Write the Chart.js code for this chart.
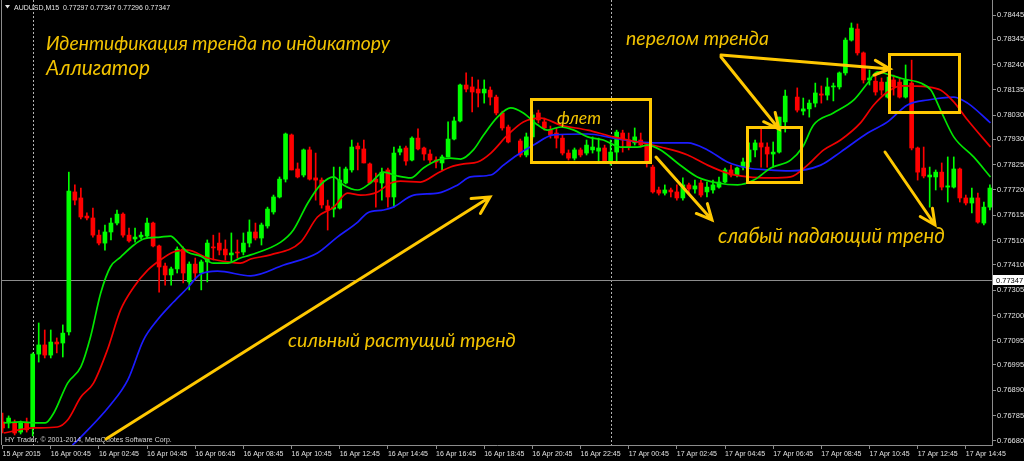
<!DOCTYPE html>
<html><head><meta charset="utf-8">
<script src="https://cdn.jsdelivr.net/npm/chart.js@4.4.1/dist/chart.umd.min.js"></script>
<style>html,body{margin:0;padding:0;background:#000;overflow:hidden}#wrap{width:1024px;height:461px;position:relative}</style>
</head><body><div id="wrap"><canvas id="c"></canvas></div>
<script>
// ---- DATA (AUDUSD M15, bar index 0 = 15 Apr 22:45) ----
const opens = [0.76759,0.76755,0.76755,0.76717,0.76755,0.76738,0.77040,0.77078,0.77036,0.77090,0.77086,0.77132,0.77712,0.77687,0.77612,0.77604,0.77533,0.77500,0.77546,0.77583,0.77620,0.77533,0.77517,0.77525,0.77529,0.77583,0.77488,0.77405,0.77368,0.77393,0.77475,0.77339,0.77413,0.77376,0.77422,0.77484,0.77500,0.77475,0.77451,0.77463,0.77463,0.77500,0.77546,0.77521,0.77571,0.77629,0.77691,0.77765,0.77948,0.77807,0.77782,0.77886,0.77770,0.77761,0.77654,0.77641,0.77645,0.77749,0.77803,0.77902,0.77890,0.77828,0.77765,0.77749,0.77803,0.77691,0.77877,0.77894,0.77844,0.77935,0.77894,0.77869,0.77844,0.77832,0.77857,0.77931,0.78006,0.78155,0.78147,0.78138,0.78122,0.78134,0.78105,0.78039,0.77981,null,0.77923,0.77865,0.77940,0.78039,0.78002,0.77968,0.77956,0.77935,0.77873,0.77852,0.77886,0.77873,0.77886,0.77881,0.77894,0.77836,0.77877,0.77956,0.77927,0.77915,0.77927,0.77906,0.77815,0.77720,0.77707,0.77720,0.77712,0.77687,0.77741,0.77724,0.77749,0.77712,0.77720,0.77732,0.77753,0.77803,0.77782,0.77815,0.77836,0.77886,0.77915,0.77898,0.77869,0.77877,0.78002,null,0.78105,0.78047,0.78056,0.78080,0.78118,0.78113,0.78147,0.78147,0.78205,0.78341,0.78387,0.78288,0.78176,0.78171,0.78167,0.78105,0.78176,0.78167,0.78105,0.78163,0.77894,0.77811,0.77774,0.77774,0.77794,0.77732,0.77732,0.77807,0.77687,0.77666,0.77687,0.77583,0.77649];
const highs = [0.76796,0.76784,0.76767,0.76763,0.76775,0.77045,0.77169,0.77140,0.77140,0.77107,0.77161,0.77794,0.77741,0.77728,0.77625,0.77645,0.77554,0.77575,0.77604,0.77637,0.77625,0.77562,0.77562,0.77546,0.77604,0.77587,0.77492,0.77417,0.77401,0.77484,0.77484,0.77422,0.77438,0.77430,0.77513,0.77533,0.77542,0.77513,0.77542,0.77513,0.77542,0.77596,0.77583,0.77583,0.77649,0.77699,0.77774,0.77956,0.77952,0.77832,0.77890,0.77898,0.77873,0.77770,0.77678,0.77815,0.77815,0.77815,0.77927,0.77915,0.77927,0.77832,0.77790,0.77811,0.77811,0.77898,0.77902,0.77902,0.77940,0.77973,0.77898,0.77886,0.77857,0.77865,0.78002,0.78022,0.78159,0.78205,0.78188,0.78176,0.78176,0.78147,0.78113,0.78047,0.77989,null,0.77931,0.77956,0.78043,0.78051,0.78018,0.77985,0.77977,0.77948,0.77886,0.77894,0.77894,0.77927,0.77940,0.77935,0.77906,0.77927,0.77968,0.77968,0.77956,0.77977,0.77956,0.77915,0.77823,0.77732,0.77741,0.77728,0.77741,0.77770,0.77749,0.77761,0.77761,0.77753,0.77761,0.77774,0.77811,0.77823,0.77815,0.77852,0.77915,0.77927,0.77977,0.77915,0.77919,0.78022,0.78134,null,0.78143,0.78101,0.78093,0.78163,0.78151,0.78184,0.78163,0.78209,0.78350,0.78412,0.78408,0.78292,0.78217,0.78196,0.78184,0.78188,0.78196,0.78184,0.78238,0.78258,0.77898,0.77898,0.77815,0.77803,0.77832,0.77857,0.77857,0.77811,0.77699,0.77728,0.77707,0.77670,0.77741];
const lows = [0.76713,0.76734,0.76705,0.76709,0.76717,0.76701,0.77007,0.77024,0.77024,0.77045,0.77028,0.77119,0.77658,0.77600,0.77596,0.77525,0.77492,0.77471,0.77513,0.77575,0.77525,0.77504,0.77504,0.77517,0.77521,0.77484,0.77297,0.77326,0.77326,0.77376,0.77335,0.77306,0.77347,0.77306,0.77339,0.77430,0.77451,0.77430,0.77422,0.77438,0.77451,0.77484,0.77513,0.77492,0.77562,0.77620,0.77687,0.77753,0.77803,0.77770,0.77774,0.77761,0.77678,0.77645,0.77554,0.77608,0.77641,0.77745,0.77794,0.77803,0.77832,0.77745,0.77649,0.77678,0.77649,0.77649,0.77865,0.77823,0.77840,0.77886,0.77844,0.77832,0.77811,0.77803,0.77857,0.77927,0.78002,0.78126,0.78043,0.78064,0.78080,0.78072,0.78031,0.77968,0.77915,null,0.77857,0.77857,0.77931,0.77998,0.77968,0.77935,0.77894,0.77865,0.77844,0.77844,0.77857,0.77865,0.77873,0.77836,0.77836,0.77823,0.77836,0.77877,0.77886,0.77906,0.77898,0.77815,0.77707,0.77699,0.77699,0.77691,0.77678,0.77678,0.77707,0.77707,0.77691,0.77691,0.77707,0.77728,0.77749,0.77774,0.77774,0.77803,0.77815,0.77857,0.77815,0.77815,0.77815,0.77873,0.77960,null,0.78043,0.78031,0.78022,0.78064,0.78080,0.78093,0.78089,0.78138,0.78196,0.78337,0.78279,0.78163,0.78155,0.78113,0.78113,0.78101,0.78113,0.78101,0.78101,0.77886,0.77761,0.77770,0.77649,0.77720,0.77720,0.77670,0.77728,0.77670,0.77658,0.77625,0.77583,0.77575,0.77637];
const closes = [0.76734,0.76775,0.76713,0.76755,0.76726,0.77040,0.77078,0.77036,0.77090,0.77082,0.77127,0.77716,0.77678,0.77608,0.77604,0.77533,0.77500,0.77546,0.77583,0.77620,0.77533,0.77509,0.77525,0.77533,0.77583,0.77488,0.77401,0.77368,0.77393,0.77475,0.77376,0.77413,0.77376,0.77422,0.77500,0.77480,0.77471,0.77451,0.77459,0.77459,0.77500,0.77546,0.77521,0.77575,0.77641,0.77691,0.77765,0.77952,0.77803,0.77774,0.77886,0.77765,0.77761,0.77658,0.77637,0.77649,0.77761,0.77807,0.77898,0.77890,0.77832,0.77749,0.77753,0.77794,0.77691,0.77873,0.77890,0.77840,0.77935,0.77890,0.77869,0.77844,0.77836,0.77857,0.77931,0.78006,0.78155,0.78138,0.78126,0.78122,0.78138,0.78105,0.78039,0.77977,0.77919,null,0.77865,0.77940,0.78031,0.78010,0.77977,0.77948,0.77935,0.77873,0.77852,0.77886,0.77865,0.77906,0.77898,0.77894,0.77840,0.77877,0.77960,0.77927,0.77898,0.77940,0.77906,0.77832,0.77712,0.77707,0.77720,0.77712,0.77687,0.77741,0.77724,0.77737,0.77699,0.77732,0.77741,0.77753,0.77803,0.77782,0.77811,0.77836,0.77886,0.77915,0.77898,0.77869,0.77877,0.78022,0.78109,null,0.78051,0.78056,0.78080,0.78122,0.78113,0.78147,0.78151,0.78205,0.78341,0.78391,0.78288,0.78176,0.78184,0.78126,0.78134,0.78167,0.78147,0.78105,0.78176,0.77894,0.77794,0.77778,0.77782,0.77794,0.77732,0.77737,0.77807,0.77687,0.77666,0.77687,0.77587,0.77649,0.77728];

// Alligator lines (bar index, price)
const jawX = [11.6,12.5,17.9,20.8,23.4,25.7,28.4,30.7,32.9,35.7,41.2,46.7,52.3,55.6,59.0,60.6,63.3,64.9,68.3,72.3,75.6,77.7,81.1,83.2,85.5,88.2,91.5,97.2,101.5,105.5,109.3,113.8,117.1,120.4,123.8,127.1,130.9,135.9,139.2,143.7,147.0,150.3,153.7,158.0,160.3,164.1];
const jawY = [0.76663,0.76684,0.76829,0.76933,0.77098,0.77181,0.77256,0.77314,0.77372,0.77384,0.77364,0.77409,0.77459,0.77525,0.77587,0.77625,0.77637,0.77649,0.77699,0.77707,0.77741,0.77774,0.77782,0.77823,0.77865,0.77906,0.77948,0.77952,0.77935,0.77919,0.77915,0.77915,0.77886,0.77836,0.77811,0.77803,0.77799,0.77823,0.77877,0.77956,0.78002,0.78072,0.78093,0.78105,0.78080,0.77998];
const teethX = [0.2,5.1,9.1,10.8,13.0,15.1,17.4,19.6,21.8,24.1,26.2,28.4,30.7,34.1,37.4,39.5,41.2,44.5,49.5,52.3,55.0,57.3,59.5,62.3,64.5,66.1,69.4,72.3,74.4,76.6,78.9,81.1,83.9,86.5,89.4,92.7,97.2,101.5,105.5,109.3,113.8,117.1,120.4,123.8,127.6,130.9,133.7,136.4,139.2,142.5,144.7,147.0,149.2,153.7,155.8,158.0,160.3,164.1];
const teethY = [0.76713,0.76734,0.76738,0.76767,0.76862,0.76920,0.77057,0.77223,0.77318,0.77388,0.77430,0.77463,0.77471,0.77438,0.77422,0.77417,0.77434,0.77451,0.77504,0.77608,0.77649,0.77707,0.77699,0.77712,0.77749,0.77757,0.77753,0.77790,0.77815,0.77828,0.77836,0.77873,0.77948,0.78002,0.78018,0.77989,0.77968,0.77940,0.77919,0.77898,0.77865,0.77823,0.77790,0.77774,0.77770,0.77774,0.77823,0.77886,0.77927,0.77998,0.78072,0.78126,0.78151,0.78147,0.78134,0.78085,0.78010,0.77898];
const lipsX = [0.2,3.0,5.1,7.1,8.5,10.8,13.0,14.6,16.3,17.9,19.6,21.8,23.4,26.2,27.9,29.1,30.7,32.9,35.0,37.4,39.5,41.2,46.2,48.3,50.7,52.8,55.0,56.6,59.0,61.1,63.3,65.6,67.8,69.9,72.3,74.4,76.1,78.2,79.9,82.2,84.4,86.5,88.9,90.5,92.7,94.9,97.2,99.8,102.7,105.5,107.1,109.3,112.1,115.4,118.8,122.1,124.8,127.6,130.9,132.9,134.7,138.0,141.4,143.7,145.3,147.5,149.7,152.5,154.2,155.8,158.0,161.3,164.1];
const lipsY = [0.76755,0.76759,0.76755,0.76755,0.76796,0.76920,0.76987,0.77111,0.77293,0.77401,0.77442,0.77492,0.77517,0.77525,0.77529,0.77504,0.77463,0.77446,0.77417,0.77417,0.77438,0.77451,0.77504,0.77554,0.77666,0.77741,0.77774,0.77741,0.77720,0.77749,0.77794,0.77778,0.77770,0.77811,0.77844,0.77852,0.77848,0.77886,0.77948,0.78022,0.78060,0.78039,0.77989,0.77968,0.77981,0.77968,0.77940,0.77927,0.77898,0.77898,0.77906,0.77886,0.77832,0.77774,0.77749,0.77741,0.77761,0.77811,0.77844,0.77898,0.77989,0.78039,0.78093,0.78163,0.78209,0.78196,0.78180,0.78163,0.78134,0.78051,0.77940,0.77857,0.77774];

const xTickIdx = [0,8,16,24,32,40,48,56,64,72,80,88,96,104,112,120,128,136,144,152,160];
const xTickLabels = ["15 Apr 2015","16 Apr 00:45","16 Apr 02:45","16 Apr 04:45","16 Apr 06:45","16 Apr 08:45","16 Apr 10:45","16 Apr 12:45","16 Apr 14:45","16 Apr 16:45","16 Apr 18:45","16 Apr 20:45","16 Apr 22:45","17 Apr 00:45","17 Apr 02:45","17 Apr 04:45","17 Apr 06:45","17 Apr 08:45","17 Apr 10:45","17 Apr 12:45","17 Apr 14:45"];
const yTicks = [0.78445,0.78345,0.78240,0.78135,0.78030,0.77930,0.77825,0.77720,0.77615,0.77510,0.77410,0.77305,0.77200,0.77095,0.76995,0.76890,0.76785,0.76680];
const daySeparators = [5,101];
const lastPrice = 0.77347;
const headerText = "AUDUSD,M15  0.77297 0.77347 0.77296 0.77347";
const copyrightText = "HY Trader, \u00A9 2001-2014, MetaQuotes Software Corp.";
const titleLines = ["Идентификация тренда по индикатору", "Аллигатор"];
const labelFlat = "флет";
const labelBreak = "перелом тренда";
const labelWeak = "слабый падающий тренд";
const labelStrong = "сильный растущий тренд";

// ---- build datasets ----
const BULL = '#00ff00', BEAR = '#ff0000';
const wickData = [], bodyData = [], candleColors = [];
opens.forEach((o, i) => {
  if (o == null) return;
  wickData.push({x: i, y: [lows[i], highs[i]]});
  bodyData.push({x: i, y: [o, closes[i]]});
  candleColors.push(closes[i] >= o ? BULL : BEAR);
});
const pts = (xs, ys) => xs.map((x, k) => ({x, y: ys[k]}));

const YEL = '#ffc800', TXT = '#f2c300';
function fitText(ctx, text, x, base, w) {
  const fam = 'Lato, "Open Sans", "DejaVu Sans", sans-serif';
  ctx.font = 'italic 20px ' + fam;
  const m = ctx.measureText(text).width;
  const s = 20 * w / m;
  ctx.font = 'italic ' + s.toFixed(2) + 'px ' + fam;
  ctx.fillText(text, x, base);
}
function arrow(ctx, x1, y1, x2, y2, len, ang) {
  const a = Math.atan2(y2 - y1, x2 - x1);
  ctx.beginPath();
  ctx.moveTo(x1, y1); ctx.lineTo(x2, y2);
  ctx.moveTo(x2 - len * Math.cos(a - ang), y2 - len * Math.sin(a - ang));
  ctx.lineTo(x2, y2);
  ctx.lineTo(x2 - len * Math.cos(a + ang), y2 - len * Math.sin(a + ang));
  ctx.stroke();
}

const overlay = {
  id: 'overlay',
  beforeDraw(chart) {
    const c = chart.ctx; c.save(); c.fillStyle = '#000'; c.fillRect(0, 0, chart.width, chart.height); c.restore();
  },
  beforeDatasetsDraw(chart) {
    const {ctx, chartArea: a, scales: {x, y}} = chart;
    ctx.save();
    ctx.strokeStyle = '#b4b4b4'; ctx.lineWidth = 1; ctx.setLineDash([2, 2]);
    daySeparators.forEach(s => {
      const px = Math.round(x.getPixelForValue(s)) + 0.5;
      ctx.beginPath(); ctx.moveTo(px, a.top); ctx.lineTo(px, a.bottom); ctx.stroke();
    });
    ctx.setLineDash([]);
    const py = Math.round(y.getPixelForValue(lastPrice)) + 0.5;
    ctx.strokeStyle = '#8c8c8c';
    ctx.beginPath(); ctx.moveTo(a.left, py); ctx.lineTo(a.right, py); ctx.stroke();
    ctx.restore();
  },
  afterDraw(chart) {
    const {ctx, chartArea: a, scales: {y}} = chart;
    ctx.save();
    ctx.strokeStyle = '#8c8c8c'; ctx.lineWidth = 1;
    ctx.beginPath(); ctx.moveTo(1.5, 0); ctx.lineTo(1.5, a.bottom); ctx.stroke();
    ctx.fillStyle = '#e6e6e6';
    ctx.beginPath(); ctx.moveTo(5, 5); ctx.lineTo(10, 5); ctx.lineTo(7.5, 8.5); ctx.closePath(); ctx.fill();
    ctx.font = '7px "Liberation Sans", Arial, sans-serif';
    ctx.textBaseline = 'alphabetic';
    ctx.fillText(headerText, 14, 10);
    ctx.fillStyle = '#d8d8d8';
    ctx.fillText(copyrightText, 5, a.bottom - 3);
    const py = Math.round(y.getPixelForValue(lastPrice));
    ctx.fillStyle = '#ffffff';
    ctx.fillRect(a.right + 1, py - 5, 1024 - a.right - 1, 10);
    ctx.fillStyle = '#000';
    ctx.font = '7.5px "Liberation Sans", Arial, sans-serif';
    ctx.fillText(lastPrice.toFixed(5), a.right + 4, py + 3);
    ctx.strokeStyle = YEL; ctx.lineWidth = 3; ctx.lineJoin = 'miter';
    ctx.strokeRect(531.5, 99.5, 119, 63);
    ctx.strokeRect(747.5, 127.5, 54, 55);
    ctx.strokeRect(889.5, 54.5, 70, 58);
    ctx.lineCap = 'round';
    arrow(ctx, 106, 439, 490, 197, 19, 0.48);
    arrow(ctx, 721, 55, 890, 69, 17, 0.45);
    arrow(ctx, 721, 57, 779, 129, 17, 0.45);
    arrow(ctx, 656, 157, 712, 220, 17, 0.45);
    arrow(ctx, 885, 152, 935, 225, 17, 0.45);
    ctx.fillStyle = TXT;
    fitText(ctx, titleLines[0], 46, 50, 344);
    fitText(ctx, titleLines[1], 46, 75, 104);
    fitText(ctx, labelFlat, 557, 124, 44);
    fitText(ctx, labelBreak, 626, 45, 143);
    fitText(ctx, labelWeak, 718, 243, 227);
    fitText(ctx, labelStrong, 288, 347, 228);
    ctx.restore();
  }
};

new Chart(document.getElementById('c'), {
  type: 'bar',
  data: {
    datasets: [
      {type: 'line', label: 'Lips', data: pts(lipsX, lipsY), borderColor: '#00e600', borderWidth: 1.7, pointRadius: 0, cubicInterpolationMode: 'monotone', fill: false, order: 0},
      {type: 'line', label: 'Teeth', data: pts(teethX, teethY), borderColor: '#f00000', borderWidth: 1.7, pointRadius: 0, cubicInterpolationMode: 'monotone', fill: false, order: 0},
      {type: 'line', label: 'Jaw', data: pts(jawX, jawY), borderColor: '#1c1cff', borderWidth: 1.7, pointRadius: 0, cubicInterpolationMode: 'monotone', fill: false, order: 0},
      {type: 'bar', label: 'Body', data: bodyData, backgroundColor: candleColors, barThickness: 4, minBarLength: 1, grouped: false, borderWidth: 0, order: 1},
      {type: 'bar', label: 'Wick', data: wickData, backgroundColor: candleColors, barThickness: 1, grouped: false, borderWidth: 0, order: 2}
    ]
  },
  options: {
    responsive: true, maintainAspectRatio: false, animation: false, devicePixelRatio: 1,
    events: [],
    layout: {padding: {left: 2, top: 0, right: 0, bottom: 0}},
    plugins: {legend: {display: false}, tooltip: {enabled: false}},
    scales: {
      x: {
        type: 'linear', min: -0.1, max: 164.35, offset: false,
        afterBuildTicks: s => { s.ticks = xTickIdx.map(v => ({value: v})); },
        afterFit: s => { s.height = 16; s.paddingLeft = 0; s.paddingRight = 0; },
        ticks: {align: 'start', autoSkip: false, maxRotation: 0, minRotation: 0, padding: 1, color: '#e0e0e0',
          font: {family: '"Liberation Sans", Arial, sans-serif', size: 7},
          callback: (v, i) => xTickLabels[i]},
        grid: {display: true, drawOnChartArea: false, drawTicks: true, tickLength: 4, color: '#8c8c8c', offset: false},
        border: {display: true, color: '#8c8c8c', width: 1}
      },
      y: {
        type: 'linear', position: 'right', min: 0.766634, max: 0.785072,
        afterBuildTicks: s => { s.ticks = yTicks.map(v => ({value: v})); },
        afterFit: s => { s.width = 32; s.paddingTop = 0; s.paddingBottom = 0; },
        ticks: {autoSkip: false, padding: 1, color: '#e0e0e0',
          font: {family: '"Liberation Sans", Arial, sans-serif', size: 7.5},
          callback: v => Number(v).toFixed(5)},
        grid: {display: true, drawOnChartArea: false, drawTicks: true, tickLength: 4, color: '#8c8c8c'},
        border: {display: true, color: '#8c8c8c', width: 1}
      }
    }
  },
  plugins: [overlay]
});
</script>
</body></html>
